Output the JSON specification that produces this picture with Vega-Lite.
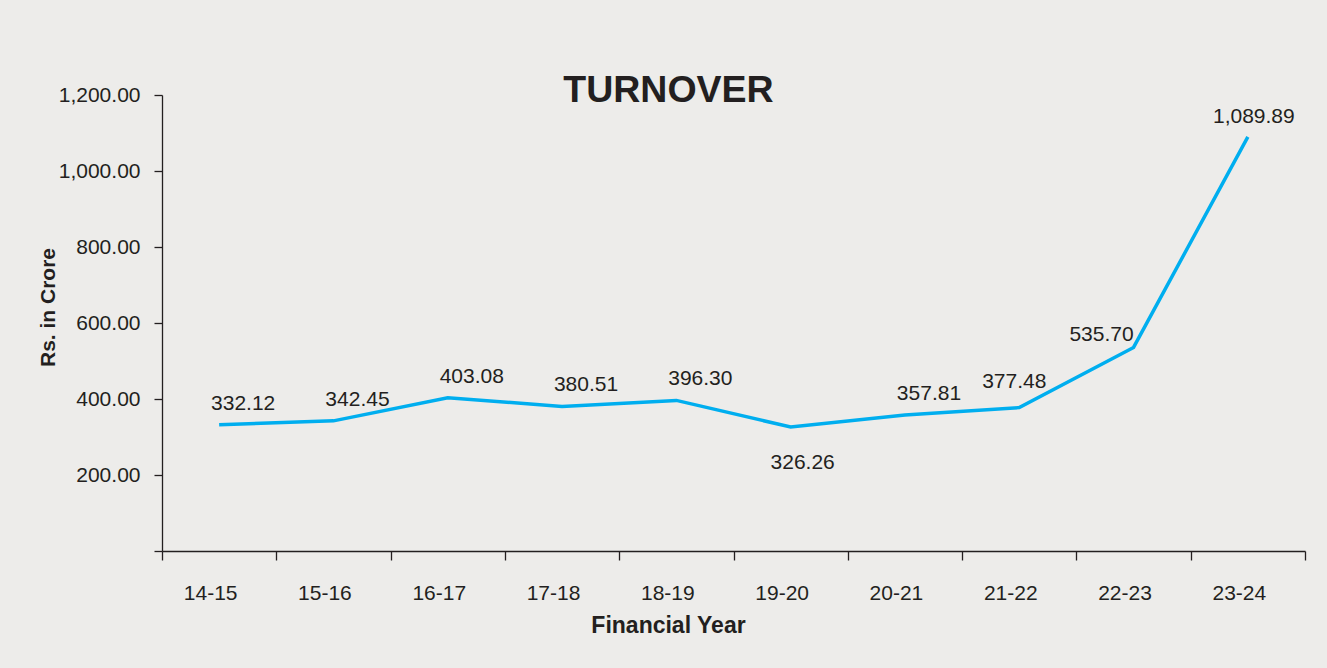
{
  "$schema": "https://vega.github.io/schema/vega-lite/v6.json",
  "autosize": {"type": "none"},
  "width": 1143,
  "height": 456,
  "padding": {"left": 162, "top": 95, "right": 22, "bottom": 117},
  "background": "#edecea",
  "config": {
    "font": "Liberation Sans",
    "view": {"stroke": null},
    "axis": {"labelColor": "#231f20", "titleColor": "#231f20", "domainColor": "#231f20", "tickColor": "#231f20", "labelFont": "Liberation Sans", "titleFont": "Liberation Sans"}
  },
  "title": {
    "text": "TURNOVER",
    "fontSize": 37.5,
    "fontWeight": "bold",
    "color": "#231f20",
    "anchor": "middle",
    "baseline": "alphabetic",
    "offset": -55,
    "dx": -65,
    "font": "Liberation Sans"
  },
  "data": {
    "values": [
      {"year": "14-15", "turnover": 332.12},
      {"year": "15-16", "turnover": 342.45},
      {"year": "16-17", "turnover": 403.08},
      {"year": "17-18", "turnover": 380.51},
      {"year": "18-19", "turnover": 396.30},
      {"year": "19-20", "turnover": 326.26},
      {"year": "20-21", "turnover": 357.81},
      {"year": "21-22", "turnover": 377.48},
      {"year": "22-23", "turnover": 535.70},
      {"year": "23-24", "turnover": 1089.89}
    ]
  },
  "encoding": {
    "x": {
      "field": "year",
      "type": "ordinal",
      "sort": null,
      "scale": {"type": "band", "paddingInner": 0, "paddingOuter": 0},
      "axis": {
        "title": "Financial Year",
        "titleFontSize": 23,
        "titleFontWeight": "bold",
        "titlePadding": 11,
        "titleX": 506,
        "labelAngle": 0,
        "labelFontSize": 21,
        "labelPadding": 22,
        "labelOffset": -9,
        "tickBand": "extent",
        "tickSize": 9,
        "domainWidth": 1.3,
        "tickWidth": 1.3
      }
    },
    "y": {
      "field": "turnover",
      "type": "quantitative",
      "scale": {"domain": [0, 1200], "nice": false},
      "axis": {
        "title": "Rs. in Crore",
        "titleFontSize": 21,
        "titleFontWeight": "bold",
        "titleAngle": -90,
        "titleX": -108,
        "titleY": 212,
        "titleAlign": "center",
        "titleBaseline": "alphabetic",
        "values": [0, 200, 400, 600, 800, 1000, 1200],
        "labelExpr": "datum.value == 0 ? '' : format(datum.value, ',.2f')",
        "labelFontSize": 21,
        "labelPadding": 14,
        "tickSize": 8,
        "grid": false,
        "domainWidth": 1.3,
        "tickWidth": 1.3
      }
    }
  },
  "layer": [
    {
      "mark": {"type": "line", "color": "#00aeef", "strokeWidth": 3.5, "interpolate": "linear"}
    },
    {
      "transform": [{"filter": "datum.year != '19-20' && datum.year != '21-22' && datum.year != '22-23' && datum.year != '23-24'"}],
      "mark": {"type": "text", "fontSize": 21, "color": "#231f20", "dy": -21, "dx": 24, "font": "Liberation Sans"},
      "encoding": {"text": {"field": "turnover", "type": "quantitative", "format": ",.2f"}}
    },
    {
      "transform": [{"filter": "datum.year == '21-22'"}],
      "mark": {"type": "text", "fontSize": 21, "color": "#231f20", "dy": -26, "dx": -5, "font": "Liberation Sans"},
      "encoding": {"text": {"field": "turnover", "type": "quantitative", "format": ",.2f"}}
    },
    {
      "transform": [{"filter": "datum.year == '23-24'"}],
      "mark": {"type": "text", "fontSize": 21, "color": "#231f20", "dy": -20, "dx": 6, "font": "Liberation Sans"},
      "encoding": {"text": {"field": "turnover", "type": "quantitative", "format": ",.2f"}}
    },
    {
      "transform": [{"filter": "datum.year == '19-20'"}],
      "mark": {"type": "text", "fontSize": 21, "color": "#231f20", "dy": 36, "dx": 12, "font": "Liberation Sans"},
      "encoding": {"text": {"field": "turnover", "type": "quantitative", "format": ",.2f"}}
    },
    {
      "transform": [{"filter": "datum.year == '22-23'"}],
      "mark": {"type": "text", "fontSize": 21, "color": "#231f20", "dy": -12, "dx": -32, "font": "Liberation Sans"},
      "encoding": {"text": {"field": "turnover", "type": "quantitative", "format": ",.2f"}}
    }
  ]
}
